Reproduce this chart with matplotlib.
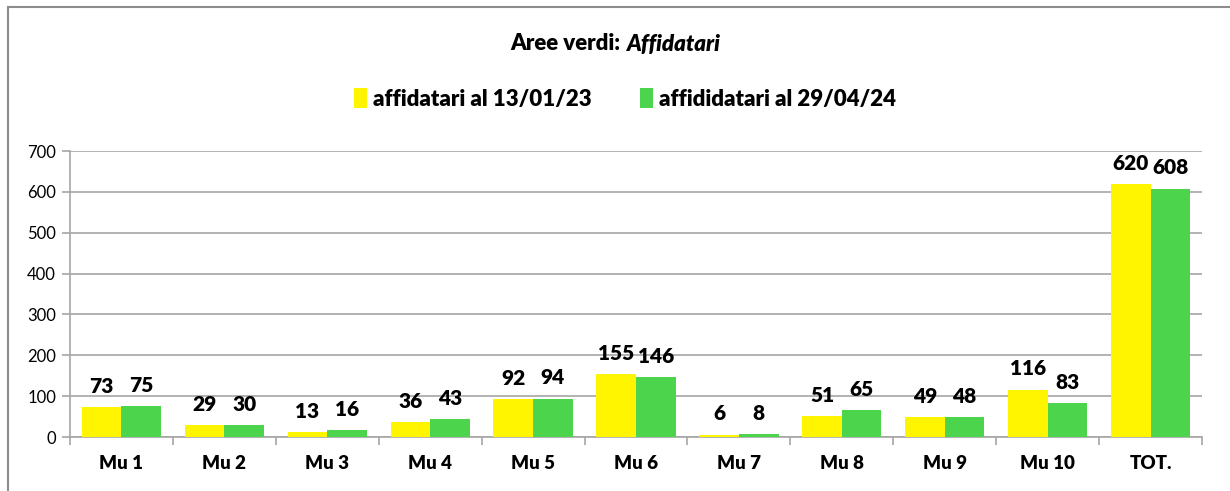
import numpy as np
import matplotlib.pyplot as plt
from matplotlib.patches import Patch
from matplotlib.lines import Line2D

plt.rcParams['font.family'] = ['Lato', 'DejaVu Sans']

categorie = ["Mu 1", "Mu 2", "Mu 3", "Mu 4", "Mu 5", "Mu 6", "Mu 7", "Mu 8", "Mu 9", "Mu 10", "TOT."]
affidatari_2023 = [73, 29, 13, 36, 92, 155, 6, 51, 49, 116, 620]
affidatari_2024 = [75, 30, 16, 43, 94, 146, 8, 65, 48, 83, 608]
serie = ["affidatari al 13/01/23", "affididatari al 29/04/24"]
colori = ["#FFF500", "#4CD44C"]
griglia = "#A6A6A6"

fig = plt.figure(figsize=(12.3, 4.91), dpi=100)
ax = fig.add_axes([70 / 1230, 1 - 437 / 491, 1132 / 1230, 286 / 491])

x = np.arange(len(categorie))
w = 0.385
b1 = ax.bar(x - w / 2, affidatari_2023, w, color=colori[0], zorder=3)
b2 = ax.bar(x + w / 2, affidatari_2024, w, color=colori[1], zorder=3)

for bars in (b1, b2):
    for r in bars:
        ax.annotate(str(int(r.get_height())), (r.get_x() + r.get_width() / 2, r.get_height()),
                    xytext=(0, 8), textcoords="offset points", ha="center", va="bottom",
                    fontsize=15, fontweight="heavy")

ax.set_xlim(-0.5, len(categorie) - 0.5)
ax.set_ylim(0, 700)
ax.set_yticks(range(0, 701, 100))
ax.yaxis.grid(True, color=griglia, linewidth=1.2, zorder=0)
ax.set_axisbelow(True)

# tick di categoria sui bordi, etichette al centro
ax.set_xticks(np.arange(-0.5, len(categorie), 1))
ax.set_xticklabels([])
ax.set_xticks(x, minor=True)
ax.set_xticklabels(categorie, minor=True, fontsize=13.5, fontweight="heavy")
ax.tick_params(axis="x", which="minor", length=0, pad=13)
ax.tick_params(axis="x", which="major", length=6, color=griglia, width=1.2)
ax.tick_params(axis="y", length=6, color=griglia, width=1.2, labelsize=12, pad=4)

for s in ("top", "right"):
    ax.spines[s].set_visible(False)
for s in ("left", "bottom"):
    ax.spines[s].set_color(griglia)
    ax.spines[s].set_linewidth(1.2)

# titolo: parte in grassetto + parte in corsivo
fig.canvas.draw()
r = fig.canvas.get_renderer()
t1 = fig.text(0, 0, "Aree verdi: ", fontsize=16, fontweight="heavy")
t2 = fig.text(0, 0, "Affidatari", fontsize=16, fontweight="heavy", style="italic")
w1 = t1.get_window_extent(r).width
w2 = t2.get_window_extent(r).width
x0 = 615 - (w1 + w2) / 2
yt = 1 - 44 / 491
t1.set_position((x0 / 1230, yt))
t2.set_position(((x0 + w1) / 1230, yt))
t1.set_va("center")
t2.set_va("center")

handles = [Patch(facecolor=c, edgecolor="none") for c in colori]
fig.legend(handles, serie, loc="center", bbox_to_anchor=(0.508, 1 - 99 / 491), ncol=2,
           frameon=False, handlelength=0.6, handleheight=1.0, handletextpad=0.25,
           columnspacing=2.2, prop={"size": 16, "weight": "heavy"})

# cornice del grafico
fig.add_artist(Line2D([8 / 1230, 8 / 1230], [0, 1 - 7 / 491], color="#8C8C8C", linewidth=1.5))
fig.add_artist(Line2D([8 / 1230, 1], [1 - 7 / 491, 1 - 7 / 491], color="#8C8C8C", linewidth=1.5))

fig.savefig("out.png", dpi=100)
